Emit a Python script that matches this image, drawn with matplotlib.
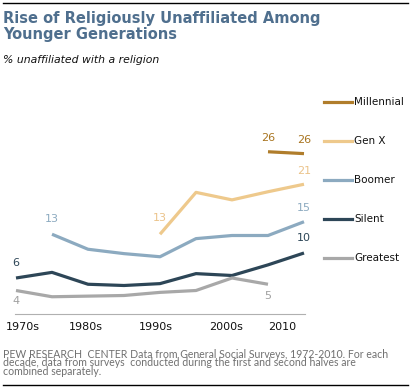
import numpy as np
import matplotlib
matplotlib.use('Agg')
import matplotlib.pyplot as plt
from matplotlib.lines import Line2D

W, H = 412, 391

# data (half-decade survey periods)
periods = np.arange(9)
tick_pos = [0.19, 1.94, 3.89, 5.83, 7.39]
tick_labels = ['1970s', '1980s', '1990s', '2000s', '2010']

greatest = [4, 3.0, 3.1, 3.2, 3.7, 4.0, 6.0, 5.0, np.nan]
silent = [6, 6.9, 5.0, 4.8, 5.1, 6.7, 6.4, 8.1, 10]
boomer = [np.nan, 13, 10.6, 9.9, 9.4, 12.3, 12.8, 12.8, 15]
genx = [np.nan, np.nan, np.nan, np.nan, 13, 19.7, 18.5, 19.8, 21]
millennial = [np.nan] * 7 + [26.2, 25.9]

names = ['Millennial', 'Gen X', 'Boomer', 'Silent', 'Greatest']
series = [millennial, genx, boomer, silent, greatest]
colors = ['#B07D2B', '#EEC98C', '#8CAAC0', '#2D4657', '#A8A8A8']
label_colors = ['#A8741F', '#EBC38A', '#8CAAC0', '#2D4657', '#A0A0A0']

# (series index, period, text, offset in px)
labels = [
    (0, 7, '26', 14), (0, 8, '26', 14),
    (1, 4, '13', 16), (1, 8, '21', 13),
    (2, 1, '13', 15), (2, 8, '15', 14),
    (3, 0, '6', 15), (3, 8, '10', 15),
    (4, 0, '4', -10), (4, 7, '5', -12),
]


def fx(px):
    return px / W


def fy(py):
    return 1 - py / H


fig = plt.figure(figsize=(W / 100, H / 100), dpi=100)
fig.patch.set_facecolor('white')

ax = fig.add_axes([fx(15), fy(314), fx(290), (314 - 128) / H])
ax.set_xlim(-1 / 36, 8 + 1 / 36)
ax.set_ylim(0.24, 30)

for vals, c in zip(series, colors):
    ax.plot(periods, vals, color=c, lw=2.3, solid_capstyle='butt')

for si, p, txt, off in labels:
    ax.annotate(txt, (p, series[si][p]), xytext=(0, off * 0.72),
                textcoords='offset points', ha='center', va='center',
                fontsize=8, color=label_colors[si])

for s in ['top', 'right', 'left']:
    ax.spines[s].set_visible(False)
ax.spines['bottom'].set_color('#B0B0B0')
ax.spines['bottom'].set_linewidth(0.8)
ax.set_yticks([])
ax.set_xticks(tick_pos)
ax.set_xticklabels(tick_labels, fontsize=8, color='#111111')
ax.tick_params(axis='x', length=0, pad=6)

# legend on the right
for i, (n, c) in enumerate(zip(names, colors)):
    y = fy(102 + 39 * i)
    fig.add_artist(Line2D([fx(324), fx(352)], [y, y], color=c, lw=2.3,
                          transform=fig.transFigure))
    fig.text(fx(354), y, n, fontsize=7.5, va='center', ha='left', color='#111111')

# titles
fig.add_artist(Line2D([fx(3), fx(408)], [fy(3), fy(3)], color='black', lw=1,
                      transform=fig.transFigure))
fig.text(fx(3), fy(19), 'Rise of Religiously Unaffiliated Among', fontsize=10.5,
         fontweight='bold', color='#4F6F8E', va='center')
fig.text(fx(3), fy(34), 'Younger Generations', fontsize=10.5,
         fontweight='bold', color='#4F6F8E', va='center')
fig.text(fx(3), fy(60), '% unaffiliated with a religion', fontsize=7.8,
         style='italic', color='#111111', va='center')

# footer
foot = ('PEW RESEARCH  CENTER Data from General Social Surveys, 1972-2010. For each\n'
        'decade, data from surveys  conducted during the first and second halves are\n'
        'combined separately.')
fig.text(fx(3), fy(349), foot, fontsize=7.6, family='Lato', color='#707070',
         va='top', linespacing=0.72)
fig.add_artist(Line2D([fx(3), fx(408)], [fy(385), fy(385)], color='black', lw=1,
                      transform=fig.transFigure))

fig.savefig('out.png', dpi=100)
